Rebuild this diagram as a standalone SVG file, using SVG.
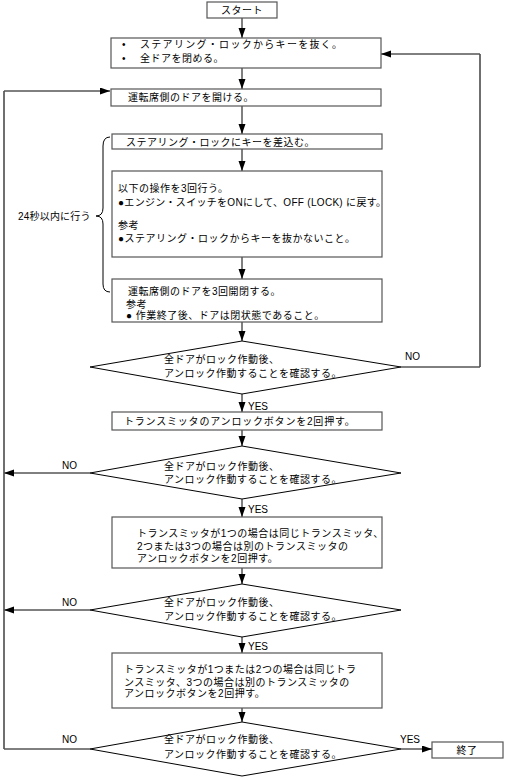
<svg xmlns="http://www.w3.org/2000/svg" width="512" height="780" viewBox="0 0 512 780">
<defs>
<marker id="ah" markerUnits="userSpaceOnUse" markerWidth="11" markerHeight="8" refX="10" refY="3.5" orient="auto"><path d="M0,0 L10,3.5 L0,7 z" fill="#000"/></marker>
<style>
text{font-family:"Liberation Sans","Noto Sans CJK JP",sans-serif;font-size:10px;fill:#000;letter-spacing:0.5px}
.lb{letter-spacing:0}
.box{fill:#fff;stroke:#555;stroke-width:1.2}
.dia{fill:#fff;stroke:#000;stroke-width:1}
.ln{fill:none;stroke:#000;stroke-width:1}
.lg{fill:none;stroke:#666;stroke-width:1.3}
.c{text-anchor:middle}
</style>
</defs>
<g id="connectors">
<line class="ln" x1="242" y1="18" x2="242" y2="38" marker-end="url(#ah)"/>
<line class="ln" x1="242" y1="68" x2="242" y2="89" marker-end="url(#ah)"/>
<line class="ln" x1="242" y1="106" x2="242" y2="134" marker-end="url(#ah)"/>
<line class="ln" x1="242" y1="149" x2="242" y2="171" marker-end="url(#ah)"/>
<line class="ln" x1="242" y1="257" x2="242" y2="279" marker-end="url(#ah)"/>
<line class="ln" x1="242" y1="322" x2="242" y2="341" marker-end="url(#ah)"/>
<line class="ln" x1="242" y1="394" x2="242" y2="412" marker-end="url(#ah)"/>
<line class="ln" x1="242" y1="430" x2="242" y2="446" marker-end="url(#ah)"/>
<line class="ln" x1="242" y1="499" x2="242" y2="517" marker-end="url(#ah)"/>
<line class="ln" x1="242" y1="568" x2="242" y2="584" marker-end="url(#ah)"/>
<line class="ln" x1="242" y1="637" x2="242" y2="653" marker-end="url(#ah)"/>
<line class="ln" x1="242" y1="708" x2="242" y2="722" marker-end="url(#ah)"/>
<path class="ln" d="M401,367 L480,367 L480,54 L381,54" marker-end="url(#ah)"/>
<line class="lg" x1="480" y1="54" x2="480" y2="367"/>
<line class="ln" x1="90" y1="473" x2="4" y2="473" marker-end="url(#ah)"/>
<line class="ln" x1="90" y1="610" x2="4" y2="610" marker-end="url(#ah)"/>
<path class="ln" d="M90,749 L4,749 L4,91 L110,91" marker-end="url(#ah)"/>
<line class="lg" x1="4" y1="91" x2="4" y2="749"/>
<line class="ln" x1="401" y1="749" x2="432" y2="749" marker-end="url(#ah)"/>
<text class="lb" x="405" y="360">NO</text>
<text class="lb" x="248" y="410">YES</text>
<text class="lb" x="62" y="469">NO</text>
<text class="lb" x="248" y="513">YES</text>
<text class="lb" x="62" y="606">NO</text>
<text class="lb" x="248" y="650">YES</text>
<text class="lb" x="62" y="743">NO</text>
<text class="lb" x="400" y="743">YES</text>
</g>
<g id="start"><rect class="box" x="207" y="2" width="70" height="16"/><text class="c" x="242" y="13.5">スタート</text></g>
<g id="n1"><rect class="box" x="111" y="38" width="270" height="30"/>
<text x="122" y="48">•</text><text x="140" y="48" style="letter-spacing:1.3px">ステアリング・ロックからキーを抜く。</text>
<text x="122" y="62">•</text><text x="140" y="62">全ドアを閉める。</text></g>
<g id="n2"><rect class="box" x="111" y="89" width="270" height="17"/><text x="128" y="101">運転席側のドアを開ける。</text></g>
<g id="brace"><path class="ln" d="M110,137 Q103,137 103,146 L103,208 Q103,216 96,216 Q103,216 103,224 L103,284 Q103,292 110,292"/><text x="18" y="220" style="letter-spacing:0.2px">24秒以内に行う</text></g>
<g id="n3"><rect class="box" x="112" y="134" width="270" height="15"/><text x="126" y="145.5">ステアリング・ロックにキーを差込む。</text></g>
<g id="n4"><rect class="box" x="112" y="171" width="270" height="86"/>
<text x="118" y="191.5">以下の操作を3回行う。</text>
<text x="118" y="205.5" style="letter-spacing:0.3px">●エンジン・スイッチをONにして、OFF (LOCK) に戻す。</text>
<text x="118" y="228.5">参考</text>
<text x="118" y="241.5">●ステアリング・ロックからキーを抜かないこと。</text></g>
<g id="n5"><rect class="box" x="112" y="279" width="270" height="43"/>
<text x="128" y="294.5">運転席側のドアを3回開閉する。</text>
<text x="126" y="307.5">参考</text>
<text x="126" y="318.5">● 作業終了後、ドアは閉状態であること。</text></g>
<g id="d1"><polygon class="dia" points="242,341 401,367 242,394 90,367"/>
<text x="164" y="362.5">全ドアがロック作動後、</text><text x="164" y="376.5">アンロック作動することを確認する。</text></g>
<g id="n6"><rect class="box" x="112" y="412" width="270" height="18"/><text x="124" y="424.5" style="letter-spacing:0.8px">トランスミッタのアンロックボタンを2回押す。</text></g>
<g id="d2"><polygon class="dia" points="242,446 401,473 242,499 90,473"/>
<text x="164" y="469.5">全ドアがロック作動後、</text><text x="164" y="482.5">アンロック作動することを確認する。</text></g>
<g id="n7"><rect class="box" x="112" y="517" width="270" height="51"/>
<text x="137" y="536.5">トランスミッタが1つの場合は同じトランスミッタ、</text>
<text x="137" y="549.5">2つまたは3つの場合は別のトランスミッタの</text>
<text x="137" y="561.5">アンロックボタンを2回押す。</text></g>
<g id="d3"><polygon class="dia" points="242,584 401,610 242,637 90,610"/>
<text x="164" y="605.5">全ドアがロック作動後、</text><text x="164" y="619.5">アンロック作動することを確認する。</text></g>
<g id="n8"><rect class="box" x="112" y="653" width="270" height="55"/>
<text x="124" y="672.5">トランスミッタが1つまたは2つの場合は同じトラ</text>
<text x="124" y="685.5">ンスミッタ、3つの場合は別のトランスミッタの</text>
<text x="124" y="696.5">アンロックボタンを2回押す。</text></g>
<g id="d4"><polygon class="dia" points="242,722 401,749 242,776 90,749"/>
<text x="164" y="742.5">全ドアがロック作動後、</text><text x="164" y="757.5">アンロック作動することを確認する。</text></g>
<g id="end"><rect class="box" x="432" y="742" width="71" height="16"/><text class="c" x="467" y="754">終了</text></g>
</svg>
